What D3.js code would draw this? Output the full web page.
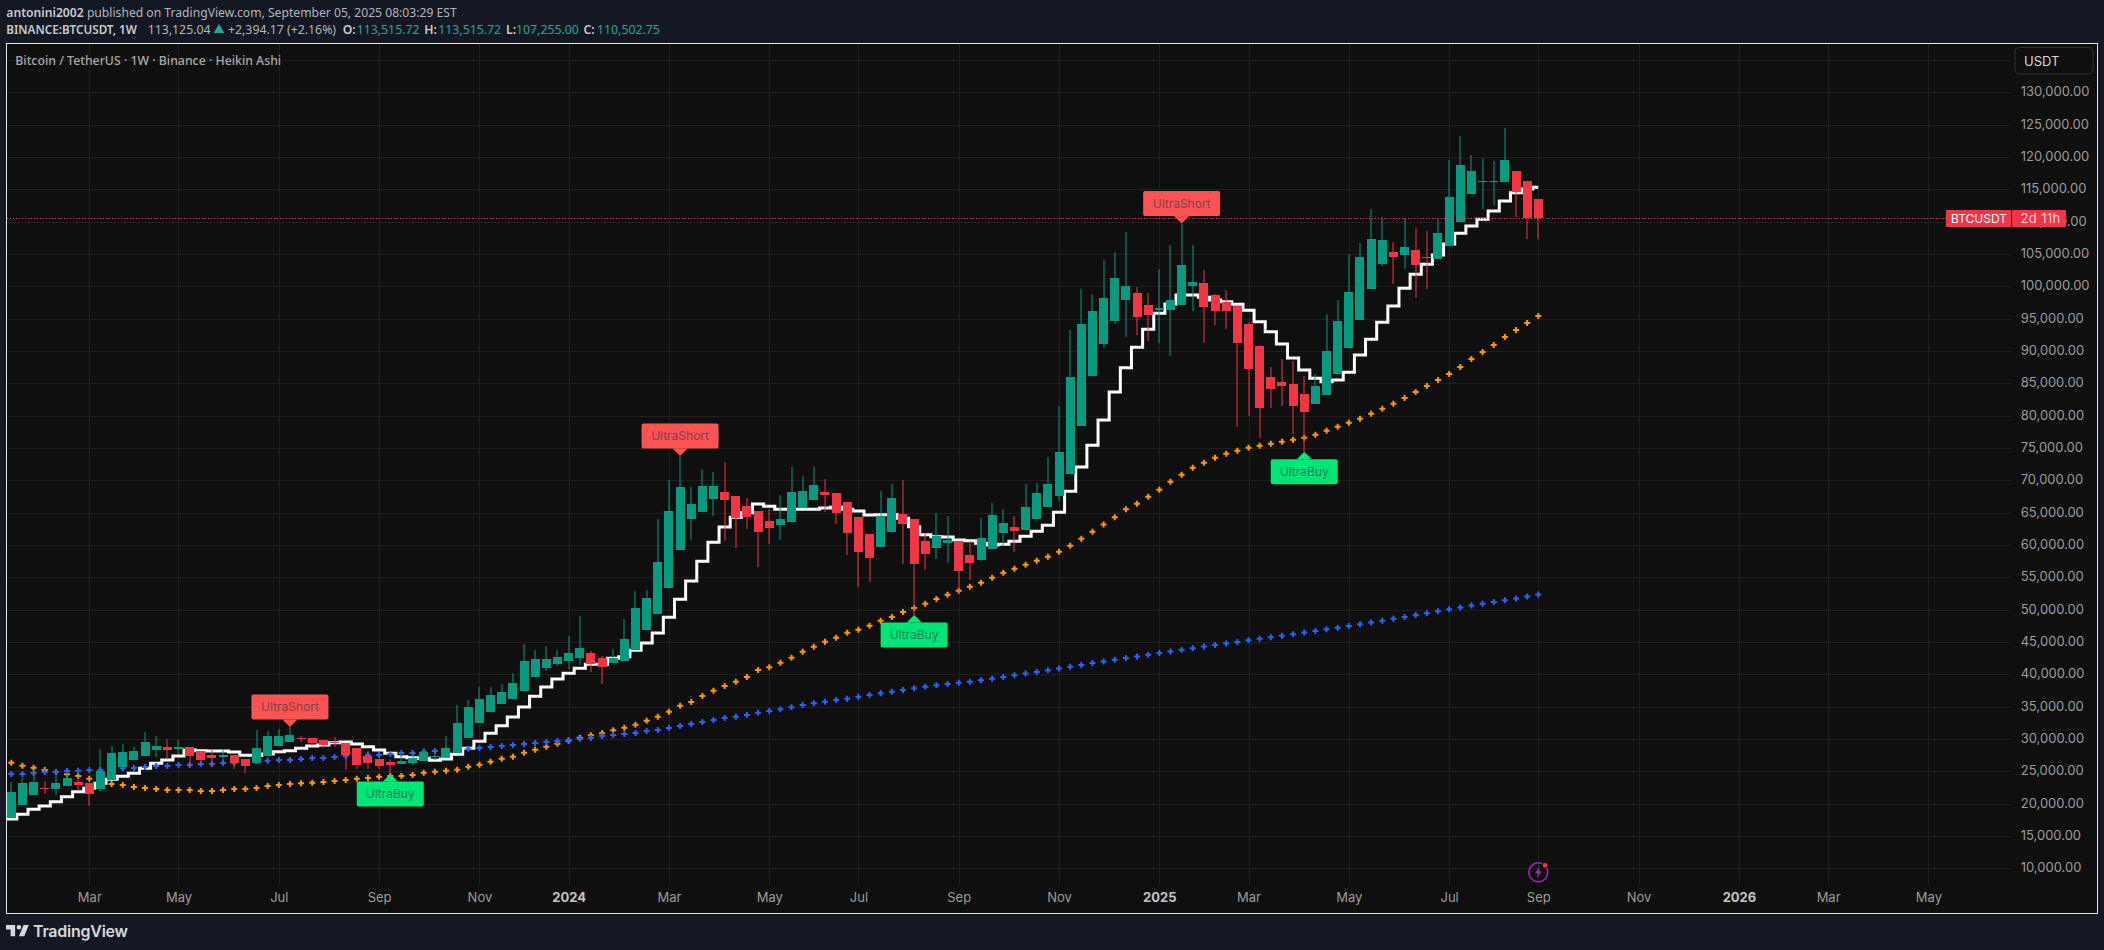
<!DOCTYPE html>
<html><head><meta charset="utf-8">
<style>html,body{margin:0;padding:0;background:#131823;overflow:hidden}svg{display:block}</style>
<script src="https://cdn.jsdelivr.net/npm/d3@7/dist/d3.min.js"></script></head>
<body><svg id="c" width="2104" height="950"></svg>
<script>
const opens=[17830,19790,21340,22370,22260,22730,23350,23190,22260,23660,25670,26750,27370,28290,28760,28450,28760,28140,27520,27210,27520,26900,26280,27370,28910,29530,30100,30150,29840,29530,29380,28600,27370,26900,26440,26130,26280,26590,27210,27210,27830,30150,32470,34170,35410,36180,37420,39580,40970,41590,42060,42520,43290,42520,41750,42060,43760,46850,49320,53340,59220,64010,65100,67110,68190,67570,66020,65250,63700,63090,63550,65710,66950,68190,68030,66640,64320,61690,59680,62000,64790,64010,60610,59530,60300,60610,58450,57670,59380,61850,62780,62310,64010,65870,67570,70970,78400,86130,91070,94630,97880,98960,97100,96330,96330,97100,100040,100510,98650,97570,96950,94170,90770,85970,85200,84890,83340,81800,83190,86440,90460,94790,99580,103440,105300,104840,105610,104530,104220,106230,109940,114270,116120,116120,116120,117820,116280,113515.72];
const highs=[23350,23960,25200,23500,24890,24890,24170,23190,28450,28910,29220,28810,31080,30460,29990,29840,28760,28140,28350,28450,27520,26900,31390,31230,31540,31850,30460,30150,29940,30300,29380,28600,28140,26900,26850,27470,28040,28600,28450,30460,35250,36030,38040,38040,38500,40200,44680,43760,44380,43760,45920,49010,43600,42830,43910,48550,52880,53030,64010,70040,73750,68960,71740,71280,72830,67570,67260,65250,65560,67720,72050,70660,72050,70200,68030,66640,64320,61690,68340,69430,70040,64010,61850,64940,64480,60610,60610,64170,66490,65560,64480,69430,69580,73600,81490,93240,99580,98810,104060,105300,108390,99890,98960,102670,106380,109730,106380,102520,98810,99420,96950,94480,90770,87520,88760,88450,86130,86440,95710,97880,104990,106690,111950,110710,106850,110510,109010,108550,110510,119530,123240,120300,119830,119370,124470,117820,116280,113515.72];
const lows=[17830,19790,21340,21490,21340,22730,21950,19640,21850,23660,25200,26750,27370,27210,26900,27680,25670,26340,25670,26750,25360,24740,26130,27370,28910,29530,29530,28910,28600,28760,25200,25360,25360,25360,24580,26130,25970,26590,26750,27210,27830,30150,32470,34170,35410,36180,37420,39580,40510,41280,40820,41440,40360,38500,41750,42060,43760,46850,49320,53340,59220,60770,65100,64480,60610,59530,62470,56590,60150,60770,63550,65710,66950,65100,63240,58450,53500,54270,59680,62000,57060,49170,56130,57830,57210,52520,54580,57520,59380,59840,58910,62310,64010,65870,66800,70970,78400,86130,90460,94170,92160,92470,91540,91230,89220,97100,96180,91230,94010,93390,78240,79940,76540,81180,81490,77160,74430,81800,83190,86440,90460,94790,99580,103140,100350,102670,98190,99580,104220,106230,109940,114270,111950,112570,116120,110710,107310,107255];
const closes=[21800,23190,23350,22260,23190,23960,22880,21490,25050,27830,27980,28140,29530,28910,28350,28760,27370,26750,27060,27520,26280,25820,28600,30460,30460,30610,29990,29320,29070,29380,27520,25970,26280,25820,25970,26590,27060,27980,27370,28600,32470,34940,36180,36800,37260,38650,42060,42370,42370,42670,43290,44070,41590,41130,42520,45460,50250,51800,57370,65250,68960,66330,69120,69120,66950,64170,64320,62000,62620,64010,68190,68340,69270,67720,64940,61850,58910,57980,64480,67260,63240,57060,58600,61390,60770,55970,57210,61080,64630,63400,62160,65870,68030,69430,74370,85970,94170,96180,98190,101280,100040,95250,95560,96640,97880,103290,100660,96800,96180,96180,91230,87210,81180,84120,84580,81490,80560,84580,89990,94630,99120,104530,107310,107160,104530,106070,103290,104420,108240,113800,118750,117820,116280,116280,119530,114580,110560,110502.75];
const stepLead=17625;
const stepLine=[17625,18346,19119,19635,20305,21078,21851,22366,23140,23758,24222,24686,25459,26232,26747,27366,28294,28190,28139,28139,27984,27469,27469,27675,28036,28190,28551,28912,29067,29427,29531,29221,28809,28294,27778,27263,27108,27005,26700,26900,27625,28552,29635,30872,32057,33397,34943,36593,38036,39273,40149,40922,41540,41540,42468,42726,43705,44839,46385,48808,51591,54427,57468,60405,62776,64271,65000,66333,65972,65508,65508,65508,65508,65714,65817,65508,65250,64632,64683,64683,64117,62828,61591,61281,61230,60767,60664,60250,59994,60096,60560,61334,62107,63034,65045,68292,72054,75404,79323,83652,87415,90559,93342,95816,97259,98651,98651,98290,97878,97620,97207,96280,94527,92981,91074,88910,87054,85766,85250,85508,86694,89373,91796,94424,96950,99682,101847,103393,104836,106537,108186,109320,110351,111640,113186,114474,115041,115299];
const orangeDots=[26335,25871,25562,25201,24892,24531,24273,23861,23397,23037,22882,22573,22418,22263,22109,22109,22109,21954,21954,22109,22263,22263,22418,22727,22882,23037,23140,23243,23346,23500,23655,23861,23964,24170,24273,24273,24428,24790,24944,25099,25254,25718,26027,26491,26955,27264,27882,28346,28810,29274,29738,30202,30562,30872,31335,31748,32212,32830,33449,34222,35149,35715,36643,37462,38189,38854,39581,40666,41078,41800,42573,43500,44273,45046,45665,46438,46902,47521,48294,48861,49634,50252,50922,51644,52314,52932,53551,54170,54943,55716,56334,56953,57571,58190,58963,59891,60973,62055,63150,64300,65510,66387,67469,68551,69788,70871,71953,72726,73499,74118,74582,75045,75353,75664,75973,76282,76592,77055,77674,78292,78911,79529,80302,81076,81849,82726,83653,84581,85509,86437,87519,88756,89838,90920,92157,93240,94322,95404];
const blueDots=[24583,24583,24737,24892,24892,25047,25098,25201,25201,25201,25459,25510,25665,25820,25820,25974,25974,26129,26129,26284,26284,26438,26593,26645,26747,26747,26902,27057,27057,27211,27366,27366,27520,27520,27675,27830,27830,27984,28139,28242,28448,28500,28604,28758,28913,29068,29222,29377,29532,29686,29841,29995,30150,30459,30614,30769,30923,31232,31387,31696,32005,32314,32623,32933,33242,33448,33706,34066,34324,34582,34891,35252,35510,35767,36025,36231,36540,36798,37056,37314,37572,37829,38086,38293,38499,38705,38860,39066,39324,39590,39850,40110,40360,40630,40900,41180,41450,41730,41990,42250,42510,42770,43020,43280,43530,43790,44040,44280,44530,44770,45010,45260,45500,45730,45970,46210,46450,46700,46950,47210,47470,47740,48020,48300,48590,48880,49170,49460,49750,50040,50340,50630,50910,51180,51450,51720,52040,52350];
const shortSignals=[25,60,105];
const buySignals=[34,81,116];
const priceTicks=[10000,15000,20000,25000,30000,35000,40000,45000,50000,55000,60000,65000,70000,75000,80000,85000,90000,95000,100000,105000,110000,115000,120000,125000,130000];
const gridPrices=priceTicks.concat([135000]);
const timeTicks=["2023-03-06","2023-05-01","2023-07-03","2023-09-04","2023-11-06","2024-01-01","2024-03-04","2024-05-06","2024-07-01","2024-09-02","2024-11-04","2025-01-06","2025-03-03","2025-05-05","2025-07-07","2025-09-01","2025-11-03","2026-01-05","2026-03-02","2026-05-04"].map(d=>new Date(d+"T00:00:00Z"));
const lastClose=110502.75;

const F="Inter,'Noto Sans',sans-serif", H="'Noto Sans',sans-serif";
const GREEN="#089981",RED="#F23645",GRID="#1f1f1f";
const weeks=d3.utcMonday.range(new Date("2023-01-09T00:00:00Z"),new Date("2025-09-02T00:00:00Z"));
const dates=weeks.slice(1);
const x=d3.scaleUtc().domain([dates[0],dates[137]]).range([11.3,1538.3]);
const y=d3.scaleLinear().domain([10000,130000]).range([868.3,92.3]);
const svg=d3.select("#c");
const P={l:6.5,t:43.5,r:2097.5,b:913.5};
svg.append("rect").attr("x",P.l).attr("y",P.t).attr("width",P.r-P.l).attr("height",P.b-P.t).attr("fill","#0f0f0f").attr("stroke","#e8e8e8").attr("stroke-width",1);
svg.append("defs").append("clipPath").attr("id","pane").append("rect").attr("x",7).attr("y",44).attr("width",2004).attr("height",841);

const grid=svg.append("g").attr("shape-rendering","crispEdges").attr("stroke",GRID);
grid.selectAll("line.h").data(gridPrices).join("line").attr("class","h").attr("x1",7).attr("x2",2011).attr("y1",d=>Math.round(y(d))+.5).attr("y2",d=>Math.round(y(d))+.5);
grid.selectAll("line.v").data(timeTicks).join("line").attr("class","v").attr("y1",44).attr("y2",885).attr("x1",d=>Math.round(x(d))+.5).attr("x2",d=>Math.round(x(d))+.5);

const plot=svg.append("g").attr("clip-path","url(#pane)");
// step line
const stepData=[stepLead].concat(stepLine);
plot.append("path").attr("d",d3.line().x((d,i)=>x(weeks[i])).y(d=>y(d)).curve(d3.curveStep)(stepData)).attr("fill","none").attr("stroke","#fff").attr("stroke-width",3).attr("stroke-linejoin","miter");
// cross dots
const cross=d3.symbol().type(d3.symbolCross).size(20)();
[[orangeDots,"#FF9800"],[blueDots,"#2962FF"]].forEach(([arr,c])=>{
  plot.append("g").selectAll("path").data(arr).join("path").attr("d",cross).attr("fill",c).attr("transform",(d,i)=>`translate(${x(dates[i])},${y(d)})`);
});
// candles
const candles=plot.append("g").selectAll("g").data(d3.range(dates.length)).join("g");
const col=i=>closes[i]>=opens[i]?GREEN:RED;
candles.append("rect").attr("x",i=>Math.round(x(dates[i]))-.5).attr("width",1).attr("y",i=>y(highs[i])).attr("height",i=>y(lows[i])-y(highs[i])).attr("fill",col);
candles.append("rect").attr("x",i=>x(dates[i])-4.5).attr("width",9).attr("y",i=>y(Math.max(opens[i],closes[i]))).attr("height",i=>Math.max(1,Math.abs(y(opens[i])-y(closes[i])))).attr("fill",col).attr("shape-rendering","crispEdges");

// axes
const yAxis=svg.append("g").attr("transform","translate(2020.7,-0.7)").call(d3.axisRight(y).tickValues(priceTicks).tickFormat(d3.format(",.2f")).tickSize(0).tickPadding(0));
yAxis.select(".domain").remove();
yAxis.selectAll("text").attr("font-family",F).attr("font-size",13).attr("fill","#9c9c9c");
const xAxis=svg.append("g").attr("transform","translate(0,885)").call(d3.axisBottom(x).tickValues(timeTicks).tickSize(0).tickPadding(8).tickFormat(d=>d.getUTCMonth()==0?d3.utcFormat("%Y")(d):d3.utcFormat("%b")(d)));
xAxis.select(".domain").remove();
xAxis.selectAll("text").attr("font-family",F).attr("font-size",13).attr("fill",d=>d.getUTCMonth()==0?"#c4c4c4":"#9c9c9c").attr("font-weight",d=>d.getUTCMonth()==0?700:400);

// last price line
svg.append("line").attr("x1",7).attr("x2",1946).attr("y1",Math.round(y(lastClose))+.5).attr("y2",Math.round(y(lastClose))+.5).attr("stroke",RED).attr("stroke-dasharray","1 2");
const ly=y(lastClose);
svg.append("rect").attr("x",1946).attr("y",ly-8.3).attr("width",65).attr("height",17).attr("rx",1).attr("fill",RED);
svg.append("rect").attr("x",2012).attr("y",ly-8.3).attr("width",54).attr("height",17).attr("rx",1).attr("fill",RED);
svg.append("text").attr("x",1951).attr("y",ly+4.4).attr("font-family",F).attr("font-size",12).attr("fill","#fff").text("BTCUSDT");
svg.append("text").attr("x",2020.5).attr("y",ly+4.4).attr("font-family",F).attr("font-size",13).attr("letter-spacing",.4).attr("fill","#ffffff").attr("fill-opacity",.8).text("2d 11h");

// USDT box
svg.append("rect").attr("x",2015).attr("y",47.5).attr("width",78).attr("height",26.5).attr("rx",4).attr("fill","#0f0f0f").attr("stroke","#2e2e2e");
svg.append("text").attr("x",2024).attr("y",65.5).attr("font-family",F).attr("font-size",13).attr("fill","#d8d8d8").text("USDT");

// signals
function bubble(i,kind){
  const up=kind==="short";
  const cx=x(dates[i]), tip=up?y(highs[i]):y(lows[i]);
  const w=up?77:67, h=25, a=7.5, s=up?-1:1;
  const g=svg.append("g");
  g.append("path").attr("d",d3.line()([[cx-7.5,tip+s*a],[cx,tip],[cx+7.5,tip+s*a]])).attr("fill",up?"#FF5252":"#00E676");
  g.append("rect").attr("x",cx-w/2).attr("y",up?tip-a-h:tip+a).attr("width",w).attr("height",h).attr("rx",2).attr("fill",up?"#FF5252":"#00E676");
  g.append("text").attr("x",cx).attr("y",(up?tip-a-h/2:tip+a+h/2)+4.4).attr("text-anchor","middle").attr("font-family",F).attr("font-size",12).attr("fill",up?"#80434d":"#1e8358").text(up?"UltraShort":"UltraBuy");
}
shortSignals.forEach(i=>bubble(i,"short"));
buySignals.forEach(i=>bubble(i,"buy"));

// pane title
svg.append("text").attr("x",15.3).attr("y",64.7).attr("font-family",H).attr("font-size",12.3).attr("font-weight",500).attr("fill","#a8a8a8").text("Bitcoin / TetherUS · 1W · Binance · Heikin Ashi");

// header
const h1=svg.append("text").attr("x",6.3).attr("y",17).attr("font-family",H).attr("font-size",12.15).attr("fill","#b2b5be");
h1.append("tspan").attr("font-weight",600).attr("fill","#c8cad0").text("antonini2002");
h1.append("tspan").text(" published on TradingView.com, September 05, 2025 08:03:29 EST");
const TEAL="#26a69a";
const hdr=(xp,txt,fill,w)=>svg.append("text").attr("x",xp).attr("y",34).attr("font-family",H).attr("font-size",12.3).attr("font-weight",w||400).attr("fill",fill).text(txt);
hdr(6.3,"BINANCE:BTCUSDT, 1W","#c8cad0",600).attr("font-size",11.7);
hdr(147.7,"113,125.04","#b2b5be");
svg.append("path").attr("d",d3.symbol().type(d3.symbolTriangle).size(48)()).attr("transform","translate(219,30)").attr("fill",TEAL);
hdr(228,"+2,394.17 (+2.16%)","#b2b5be");
hdr(342.7,"O:","#c8cad0",600);hdr(356.7,"113,515.72",TEAL);
hdr(424.3,"H:","#c8cad0",600);hdr(438.3,"113,515.72",TEAL);
hdr(506,"L:","#c8cad0",600);hdr(516,"107,255.00",TEAL);
hdr(583.5,"C:","#c8cad0",600);hdr(597,"110,502.75",TEAL);

// lightning icon
const ic=svg.append("g").attr("transform","translate(1538.3,872.3)");
ic.append("circle").attr("r",9.5).attr("fill","none").attr("stroke","#9c27b0").attr("stroke-width",1.6);
ic.append("path").attr("d","M1.5,-6 L-3.5,1 L-0.5,1 L-1.5,6 L3.5,-1 L0.5,-1 Z").attr("fill","#9c27b0");
ic.append("circle").attr("cx",6.8).attr("cy",-7).attr("r",3.2).attr("fill","#0f0f0f");
ic.append("circle").attr("cx",6.8).attr("cy",-7).attr("r",2.4).attr("fill",RED);

// logo
svg.append("path").attr("transform","translate(4.5,920.4) scale(0.76)").attr("d","M14 6H2v6h6v9h6V6Zm12 15h-7l6-15h7l-6 15Zm-7-9a3 3 0 1 0 0-6 3 3 0 0 0 0 6Z").attr("fill","#d8d9dc");
svg.append("text").attr("x",33).attr("y",937).attr("font-family","Inter,sans-serif").attr("font-size",16).attr("font-weight",600).attr("letter-spacing",-.25).attr("fill","#d8d9dc").text("TradingView");
</script></body></html>
